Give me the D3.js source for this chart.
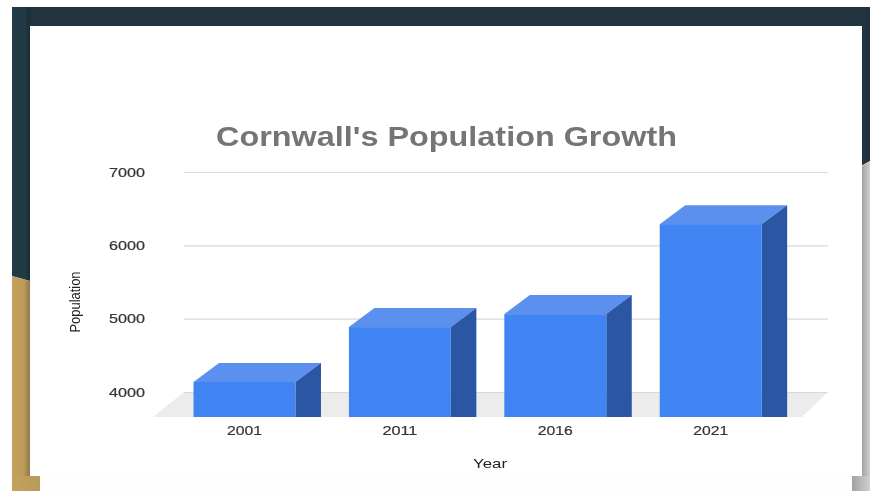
<!DOCTYPE html>
<html>
<head>
<meta charset="utf-8">
<script src="https://cdn.jsdelivr.net/npm/d3@7"></script>
<style>
  html, body { margin: 0; padding: 0; background: #fff; }
  svg { display: block; filter: blur(0.5px); }
  text { font-family: "Liberation Sans", Arial, sans-serif; }
</style>
</head>
<body>
<svg id="chart" width="870" height="491"></svg>
<script>
// Census population of Cornwall by year
const years = ["2001", "2011", "2016", "2021"];
const population = [4477, 5226, 5403, 6630];
const gridValues = [4000, 5000, 6000, 7000];

const titleText = "Cornwall's Population Growth";
const xTitle = "Year";
const yTitle = "Population";

const svg = d3.select("#chart");
const defs = svg.append("defs");

// Horizontal shading on the slide's frame strips
function strip(id, stops) {
  const g = defs.append("linearGradient").attr("id", id);
  stops.forEach(([o, c]) => g.append("stop").attr("offset", o).attr("stop-color", c));
}
strip("gold", [[0, "#c2a25d"], [0.65, "#bd9c58"], [1, "#8f774a"]]);
strip("goldFoot", [[0, "#c2a25d"], [1, "#b99a58"]]);
strip("teal", [[0, "#1f3b47"], [0.7, "#213a45"], [1, "#1c2c35"]]);
strip("grey", [[0, "#a2a2a2"], [1, "#cfcfcf"]]);

// Slide backdrop: dark frame, gold lower-left and grey lower-right corners
const backdrop = svg.append("g");
backdrop.append("rect").attr("x", 12).attr("y", 7).attr("width", 858).attr("height", 484).attr("fill", "#fff");
backdrop.append("path").attr("d", "M30 7H870V161L850 172V300H30Z").attr("fill", "#21343e");
backdrop.append("path").attr("d", "M12 7H30V281L12 276Z").attr("fill", "url(#teal)");
backdrop.append("path").attr("d", "M12 276L30 281V491H12Z").attr("fill", "url(#gold)");
backdrop.append("rect").attr("x", 12).attr("y", 476).attr("width", 28).attr("height", 15).attr("fill", "url(#goldFoot)");
backdrop.append("path").attr("d", "M862 166L870 161V491H862Z").attr("fill", "url(#grey)");
backdrop.append("rect").attr("x", 852).attr("y", 476).attr("width", 18).attr("height", 15).attr("fill", "url(#grey)");

// White card carrying the chart, with the pale strip beneath it
backdrop.append("rect").attr("x", 40).attr("y", 476).attr("width", 812).attr("height", 15).attr("fill", "#fffefc");
backdrop.append("rect").attr("x", 30).attr("y", 26).attr("width", 832).attr("height", 450).attr("fill", "#fff");

// Scales: the grid sits on the back wall, the bars on the front plane
const yBack = d3.scaleLinear().domain([4000, 7000]).range([392, 172]);
const yFront = d3.scaleLinear().domain([4000, 7000]).range([417, 197]);
const x = d3.scaleBand().domain(years).range([166.8, 788.4]).paddingInner(0.344).paddingOuter(0.172);
const depthX = 25.5, depthY = 19;
const floorDepthX = 31;

// Floor of the 3D plot
svg.append("path")
  .attr("d", `M${184 - floorDepthX} ${yFront(4000)}L184 ${yBack(4000)}H828L${828 - floorDepthX + 5} ${yFront(4000)}Z`)
  .attr("fill", "#ececec");

// Gridlines and value labels drawn through a left axis
const axis = svg.append("g")
  .attr("transform", "translate(184,0)")
  .call(d3.axisLeft(yBack).tickValues(gridValues).tickSize(-644).tickPadding(39).tickFormat(d3.format("d")));
axis.select(".domain").remove();
axis.selectAll(".tick line").attr("stroke", "#d9d9d9").attr("stroke-width", 1.1);
axis.selectAll(".tick text")
  .attr("font-size", 13.5).attr("fill", "#333").attr("stroke", "#333").attr("stroke-width", 0.2)
  .attr("textLength", 36).attr("lengthAdjust", "spacingAndGlyphs");

// Bars: top, side and front faces
const bars = svg.append("g").selectAll("g").data(years).join("g");
const front = i => ({ l: x(years[i]), r: x(years[i]) + x.bandwidth(), t: yFront(population[i]), b: yFront(4000) });

bars.append("path")
  .attr("fill", "#5c90ee")
  .attr("d", (d, i) => { const f = front(i);
    return `M${f.l} ${f.t}L${f.l + depthX} ${f.t - depthY}H${f.r + depthX}L${f.r} ${f.t}Z`; });
bars.append("path")
  .attr("fill", "#2b56a3")
  .attr("d", (d, i) => { const f = front(i);
    return `M${f.r} ${f.t}L${f.r + depthX} ${f.t - depthY}V${f.b}H${f.r}Z`; });
bars.append("rect")
  .attr("fill", "#4083f2")
  .attr("x", d => x(d))
  .attr("y", (d, i) => front(i).t)
  .attr("width", x.bandwidth())
  .attr("height", (d, i) => front(i).b - front(i).t);

// Category labels
svg.append("g").selectAll("text").data(years).join("text")
  .attr("x", d => x(d) + x.bandwidth() / 2)
  .attr("y", 435)
  .attr("text-anchor", "middle")
  .attr("font-size", 13.5).attr("fill", "#333").attr("stroke", "#333").attr("stroke-width", 0.2)
  .attr("textLength", 35).attr("lengthAdjust", "spacingAndGlyphs")
  .text(d => d);

// Axis titles
svg.append("text").attr("x", 490).attr("y", 468).attr("text-anchor", "middle")
  .attr("font-size", 13.5).attr("fill", "#222")
  .attr("textLength", 34).attr("lengthAdjust", "spacingAndGlyphs").text(xTitle);
svg.append("text").attr("transform", "translate(80,302) rotate(-90)").attr("text-anchor", "middle")
  .attr("font-size", 14).attr("fill", "#222")
  .attr("textLength", 61).attr("lengthAdjust", "spacingAndGlyphs").text(yTitle);

// Chart title
svg.append("text").attr("x", 216).attr("y", 146)
  .attr("font-size", 27).attr("font-weight", "bold").attr("fill", "#757575")
  .attr("textLength", 461).attr("lengthAdjust", "spacingAndGlyphs").text(titleText);
</script>
</body>
</html>
